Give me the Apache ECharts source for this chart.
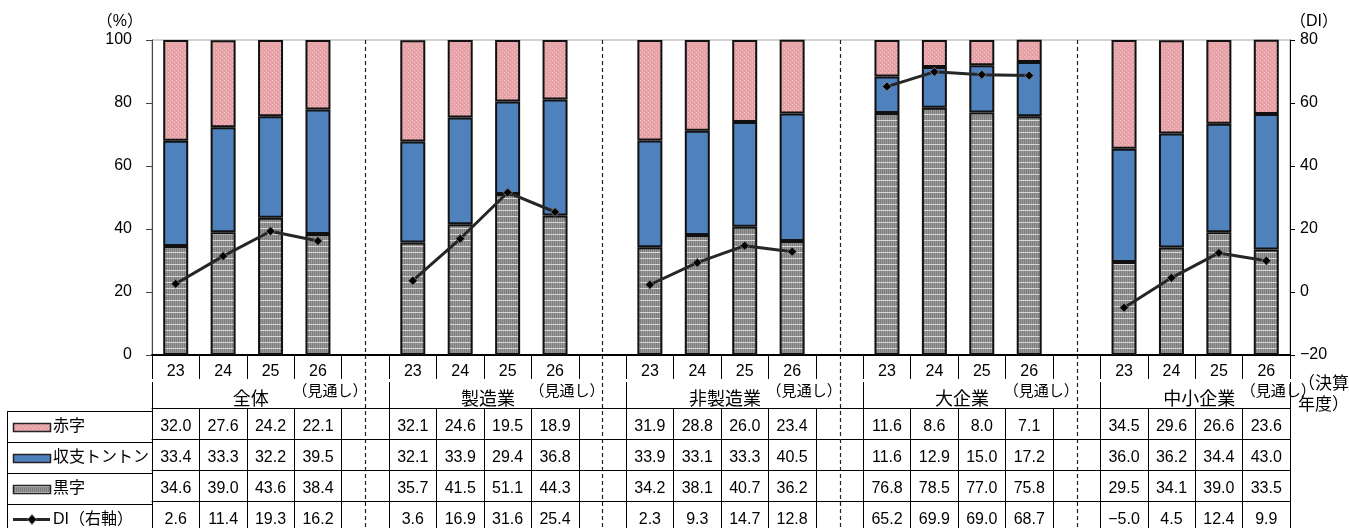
<!DOCTYPE html>
<html>
<head>
<meta charset="utf-8">
<script src="https://cdn.jsdelivr.net/npm/echarts@6/dist/echarts.min.js"></script>
<style>
html, body { margin: 0; padding: 0; background: #fff; }
#chart { width: 1349px; height: 528px; }
</style>
</head>
<body>
<div id="chart"></div>
<script>
// ---- data ----
const groups = ['全体', '製造業', '非製造業', '大企業', '中小企業'];
const years = ['23', '24', '25', '26'];
const forecastYear = '26';
const forecastNote = '（見通し）';
const rowNames = ['赤字', '収支トントン', '黒字', 'DI（右軸）'];

// 赤字 (%)
const akaji = [32.0, 27.6, 24.2, 22.1, 32.1, 24.6, 19.5, 18.9, 31.9, 28.8, 26.0, 23.4,
               11.6, 8.6, 8.0, 7.1, 34.5, 29.6, 26.6, 23.6];
// 収支トントン (%)
const tonton = [33.4, 33.3, 32.2, 39.5, 32.1, 33.9, 29.4, 36.8, 33.9, 33.1, 33.3, 40.5,
                11.6, 12.9, 15.0, 17.2, 36.0, 36.2, 34.4, 43.0];
// 黒字 (%)
const kuroji = [34.6, 39.0, 43.6, 38.4, 35.7, 41.5, 51.1, 44.3, 34.2, 38.1, 40.7, 36.2,
                76.8, 78.5, 77.0, 75.8, 29.5, 34.1, 39.0, 33.5];
// DI (right axis)
const di = [2.6, 11.4, 19.3, 16.2, 3.6, 16.9, 31.6, 25.4, 2.3, 9.3, 14.7, 12.8,
            65.2, 69.9, 69.0, 68.7, -5.0, 4.5, 12.4, 9.9];

const leftTicks = { min: 0, max: 100, interval: 20 };
const rightTicks = { min: -20, max: 80, interval: 20 };

// ---- layout ----
const FONT = "'Liberation Sans', 'Noto Sans CJK JP', sans-serif";
const GRID = { left: 152, right: 59, top: 40, bottom: 170 };
const PLOT_BOTTOM = 528 - GRID.bottom;
const rowOffsets = [53, 84, 115, 146];   // table row lines below the plot
const ROW_H = 31;
const TABLE_LEFT = 7;

// one slot per bar, an empty slot between groups
const slots = [];
groups.forEach((g, gi) => {
  years.forEach((y, yi) => slots.push({ gi, yi, k: gi * years.length + yi }));
  if (gi < groups.length - 1) slots.push(null);
});
const pick = arr => slots.map(s => (s ? arr[s.k] : null));
const categories = slots.map(s => (s ? years[s.yi] : ''));
const fmtNum = v => (v < 0 ? '−' + Math.abs(v).toFixed(1) : v.toFixed(1));
const rowArrays = [akaji, tonton, kuroji, di];
const rowStrings = rowArrays.map(arr => slots.map(s => (s ? fmtNum(arr[s.k]) : '')));

// ---- fill patterns ----
function makePattern(w, h, draw) {
  const c = document.createElement('canvas');
  c.width = w; c.height = h;
  draw(c.getContext('2d'));
  return { image: c, repeat: 'repeat' };
}
const pinkFill = makePattern(4, 4, ctx => {
  ctx.fillStyle = '#e6a2a6'; ctx.fillRect(0, 0, 4, 4);
  ctx.fillStyle = '#f1c8ca'; ctx.fillRect(0, 0, 1, 1); ctx.fillRect(2, 2, 1, 1);
});
const grayFill = makePattern(2, 6, ctx => {
  ctx.fillStyle = '#7c7c7c'; ctx.fillRect(0, 0, 1, 6);
  ctx.fillStyle = '#9a9a9a'; ctx.fillRect(1, 0, 1, 6);
  ctx.fillStyle = '#d6d6d6'; ctx.fillRect(0, 0, 2, 1);
});
const blueFill = '#4f81bd';

const chart = echarts.init(document.getElementById('chart'), null, { renderer: 'canvas' });

const baseText = { fontFamily: FONT, fontSize: 16, color: '#000' };

// table rows drawn as extra category axes under the plot
const tableAxes = rowOffsets.map((off, r) => ({
  type: 'category',
  gridIndex: 0,
  position: 'bottom',
  offset: off,
  data: slots.map((s, i) => String(i)),
  axisLine: { show: true, onZero: false, lineStyle: { color: '#000', width: 1 } },
  axisTick: { show: true, interval: 0, length: ROW_H, lineStyle: { color: '#000', width: 1 } },
  axisLabel: Object.assign({}, baseText, {
    interval: 0, margin: 11,
    formatter: (v, i) => rowStrings[r][i]
  }),
  splitLine: { show: false },
  axisPointer: { show: false }
}));

const option = {
  animation: false,
  backgroundColor: '#fff',
  grid: Object.assign({ show: true, borderColor: '#a6a6a6', borderWidth: 1, backgroundColor: 'transparent' }, GRID),
  xAxis: [{
    type: 'category',
    data: categories,
    position: 'bottom',
    axisLine: { show: true, onZero: false, lineStyle: { color: '#000', width: 2 } },
    axisTick: { show: true, interval: 0, length: 24, lineStyle: { color: '#000', width: 1 } },
    axisLabel: Object.assign({}, baseText, {
      interval: 0, margin: 8, lineHeight: 18,
      formatter: v => (v === forecastYear ? '{y|' + v + '}\n{m|' + forecastNote + '}' : '{y|' + v + '}'),
      rich: {
        y: { fontFamily: FONT, fontSize: 16, lineHeight: 18, color: '#000' },
        m: { fontFamily: FONT, fontSize: 15, lineHeight: 22, color: '#000', padding: [0, 0, 0, 24] }
      }
    }),
    splitLine: { show: false }
  }].concat(tableAxes),
  yAxis: [{
    type: 'value',
    min: leftTicks.min, max: leftTicks.max, interval: leftTicks.interval,
    position: 'left',
    name: '（%）',
    nameLocation: 'end',
    nameGap: 10,
    nameTextStyle: Object.assign({}, baseText, { align: 'right', padding: [0, 9, 0, 0] }),
    axisLine: { show: true, lineStyle: { color: '#444', width: 1 } },
    axisTick: { show: true, length: 6, lineStyle: { color: '#444' } },
    axisLabel: Object.assign({}, baseText, { margin: 20 }),
    splitLine: { show: false }
  }, {
    type: 'value',
    min: rightTicks.min, max: rightTicks.max, interval: rightTicks.interval,
    position: 'right',
    name: '（DI）',
    nameLocation: 'end',
    nameGap: 10,
    nameTextStyle: Object.assign({}, baseText, { align: 'left', padding: [0, 0, 0, 0] }),
    axisLine: { show: true, onZero: false, lineStyle: { color: '#000', width: 1 } },
    axisTick: { show: true, length: 5, lineStyle: { color: '#000' } },
    axisLabel: Object.assign({}, baseText, {
      margin: 10,
      formatter: v => (v < 0 ? '−' + Math.abs(v) : String(v))
    }),
    splitLine: { show: false }
  }],
  series: [{
    name: '黒字', type: 'bar', stack: 'share', barWidth: 25,
    data: pick(kuroji),
    itemStyle: { color: grayFill, borderColor: '#111', borderWidth: 2 }
  }, {
    name: '収支トントン', type: 'bar', stack: 'share', barWidth: 25,
    data: pick(tonton),
    itemStyle: { color: blueFill, borderColor: '#111', borderWidth: 2 }
  }, {
    name: '赤字', type: 'bar', stack: 'share', barWidth: 25,
    data: pick(akaji),
    itemStyle: { color: pinkFill, borderColor: '#111', borderWidth: 2 }
  }, {
    name: 'DI', type: 'line', yAxisIndex: 1, z: 10,
    data: pick(di),
    connectNulls: false,
    symbol: 'diamond', symbolSize: 9,
    lineStyle: { color: '#262626', width: 3 },
    itemStyle: { color: '#000', borderColor: '#7a7a7a', borderWidth: 1 }
  }]
};

chart.setOption(option);

// ---- separators, group names and row headers ----
const px = i => chart.convertToPixel({ xAxisIndex: 0 }, i);
const slotW = px(1) - px(0);
const gfx = [];

// dashed separators through the gap slots
slots.forEach((s, i) => {
  if (s === null) {
    const x = Math.round(px(i)) + 0.5;
    gfx.push({
      type: 'line', silent: true, z: 20,
      shape: { x1: x, y1: GRID.top, x2: x, y2: 528 },
      style: { stroke: '#222', lineWidth: 1.2, lineDash: [4, 3] }
    });
  }
});

// group name row: boundaries and names
const rowTop = PLOT_BOTTOM + 24;
const rowBottom = PLOT_BOTTOM + rowOffsets[0];
const groupStarts = [];
slots.forEach((s, i) => { if (s && s.yi === 0) groupStarts.push(i); });
groupStarts.forEach((start, gi) => {
  const xl = Math.round(px(start) - slotW / 2) + 0.5;
  gfx.push({
    type: 'line', silent: true,
    shape: { x1: xl, y1: rowTop, x2: xl, y2: rowBottom },
    style: { stroke: '#000', lineWidth: 1 }
  });
  const cx = (px(start + 1) + px(start + 2)) / 2 + 4;
  gfx.push({
    type: 'text', silent: true,
    style: {
      text: groups[gi], x: cx, y: 400, align: 'center', verticalAlign: 'middle',
      font: '18px ' + FONT, fill: '#000'
    }
  });
});
const xr = Math.round(px(slots.length - 1) + slotW / 2) + 0.5;
gfx.push({
  type: 'line', silent: true,
  shape: { x1: xr, y1: rowTop, x2: xr, y2: rowBottom },
  style: { stroke: '#000', lineWidth: 1 }
});

// fiscal year unit at the right end of the axis
gfx.push({
  type: 'text', silent: true,
  style: {
    text: '（決算\n年度）', x: 1349, y: 374, align: 'right', verticalAlign: 'top',
    font: '17px ' + FONT, lineHeight: 21, fill: '#000'
  }
});

// row header cells with legend keys
const gridLeft = GRID.left;
rowOffsets.forEach((off, r) => {
  const yTop = PLOT_BOTTOM + off + 0.5;
  gfx.push({
    type: 'line', silent: true,
    shape: { x1: TABLE_LEFT, y1: yTop, x2: gridLeft, y2: yTop },
    style: { stroke: '#000', lineWidth: 1 }
  });
  const yc = PLOT_BOTTOM + off + ROW_H / 2;
  if (r < 3) {
    const fills = [pinkFill, blueFill, grayFill];
    gfx.push({
      type: 'rect', silent: true,
      shape: { x: 13.5, y: Math.round(yc - 4) + 0.5, width: 37, height: 8 },
      style: { fill: fills[r], stroke: '#222', lineWidth: 1.5 }
    });
  } else {
    gfx.push({
      type: 'line', silent: true,
      shape: { x1: 13, y1: yc, x2: 50, y2: yc },
      style: { stroke: '#262626', lineWidth: 3 }
    });
    gfx.push({
      type: 'polygon', silent: true,
      shape: { points: [[32, yc - 5], [36.5, yc], [32, yc + 5], [27.5, yc]] },
      style: { fill: '#000', stroke: '#7a7a7a', lineWidth: 1 }
    });
  }
  gfx.push({
    type: 'text', silent: true,
    style: {
      text: rowNames[r], x: 53, y: yc, align: 'left', verticalAlign: 'middle',
      font: '16px ' + FONT, fill: '#000'
    }
  });
});
gfx.push({
  type: 'line', silent: true,
  shape: { x1: TABLE_LEFT + 0.5, y1: PLOT_BOTTOM + rowOffsets[0], x2: TABLE_LEFT + 0.5, y2: 528 },
  style: { stroke: '#000', lineWidth: 1 }
});

chart.setOption({ graphic: { elements: gfx } });
</script>
</body>
</html>
